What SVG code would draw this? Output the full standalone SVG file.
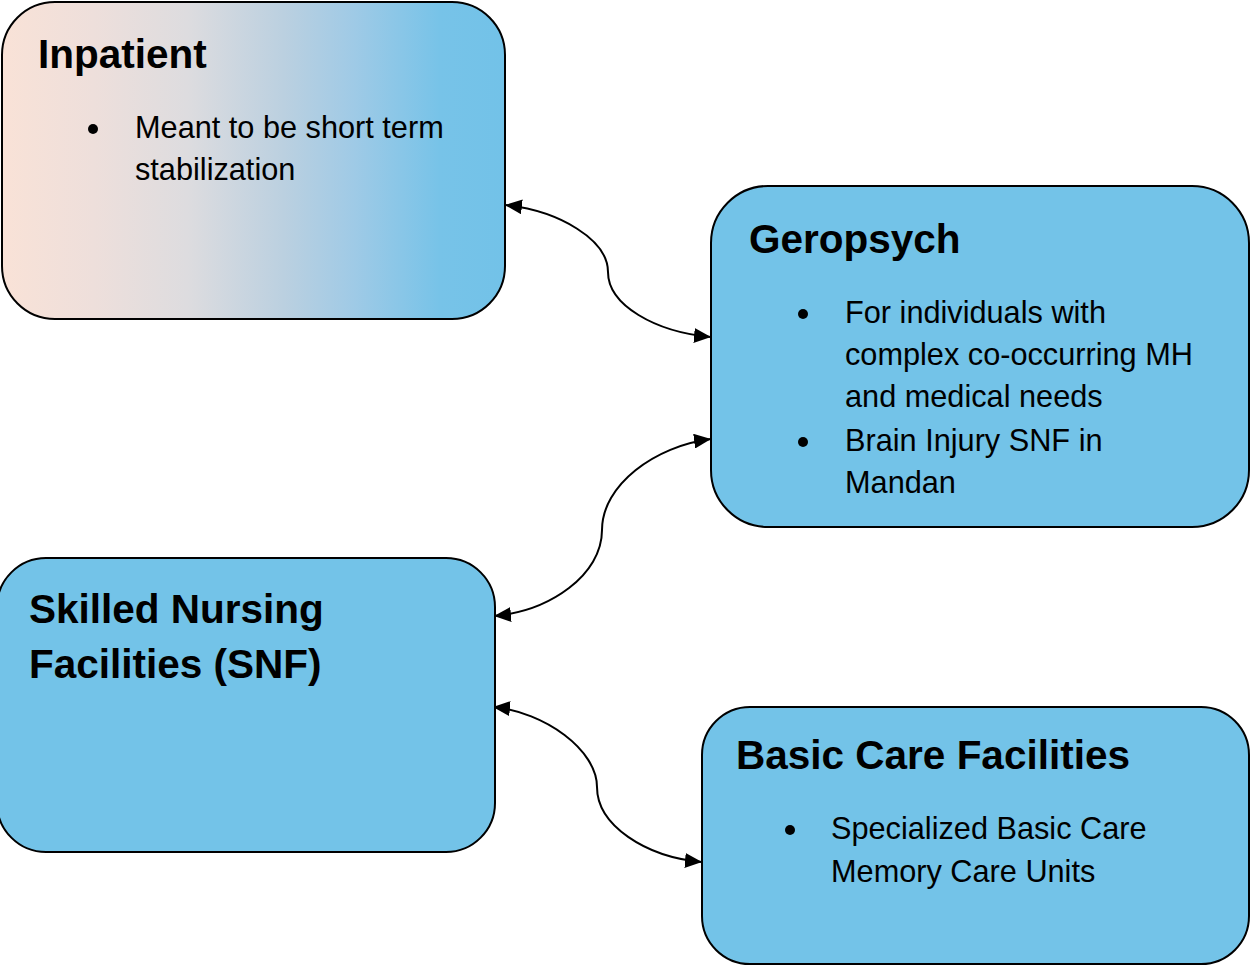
<svg xmlns="http://www.w3.org/2000/svg" width="1250" height="966" viewBox="0 0 1250 966">
<style>
.box{stroke:#000;stroke-width:2;}
.blue{fill:#73C3E8;}
.title{font-family:"Liberation Sans",Arial,sans-serif;font-weight:bold;font-size:40.5px;fill:#000;}
.body{font-family:"Liberation Sans",Arial,sans-serif;font-size:30.7px;fill:#000;}
.conn{fill:none;stroke:#000;stroke-width:2;marker-start:url(#arr);marker-end:url(#arr);}
</style>
<defs>
<linearGradient id="grad" gradientUnits="userSpaceOnUse" x1="2" y1="0" x2="505" y2="0">
<stop offset="0" stop-color="#F9E2D7"/>
<stop offset="0.18" stop-color="#EEDFDB"/>
<stop offset="0.37" stop-color="#DDDCDF"/>
<stop offset="0.56" stop-color="#BBD0E0"/>
<stop offset="0.7" stop-color="#9FCAE6"/>
<stop offset="0.87" stop-color="#77C3E8"/>
<stop offset="1" stop-color="#72C2E8"/>
</linearGradient>
<marker id="arr" markerUnits="userSpaceOnUse" markerWidth="17" markerHeight="15" refX="17" refY="7.5" orient="auto-start-reverse">
<path d="M0,0 L17,7.5 L0,15 Z" fill="#000"/>
</marker>
</defs>
<g id="connectors">
<path class="conn" d="M505,205 C560,211 608,240 608,272 C608,305 655,332 711,337"/>
<path class="conn" d="M711,439 C655,446 602,485 602,530 C602,575 550,611 494,616"/>
<path class="conn" d="M493,707 C545,712 597,750 597,787 C597,825 645,857 702,862"/>
</g>
<g id="inpatient">
<rect class="box" x="2" y="2" width="503" height="317" rx="53" ry="53" fill="url(#grad)"/>
<text class="title" x="38" y="68">Inpatient</text>
<circle cx="93" cy="129" r="5"/>
<text class="body" x="135" y="138">Meant to be short term</text>
<text class="body" x="135" y="180">stabilization</text>
</g>
<g id="geropsych">
<rect class="box blue" x="711" y="186" width="538" height="341" rx="57" ry="57"/>
<text class="title" x="749" y="253">Geropsych</text>
<circle cx="803" cy="314" r="5"/>
<text class="body" x="845" y="323">For individuals with</text>
<text class="body" x="845" y="365">complex co-occurring MH</text>
<text class="body" x="845" y="407">and medical needs</text>
<circle cx="803" cy="442" r="5"/>
<text class="body" x="845" y="451">Brain Injury SNF in</text>
<text class="body" x="845" y="493">Mandan</text>
</g>
<g id="snf">
<rect class="box blue" x="-3" y="558" width="498" height="294" rx="49" ry="49"/>
<text class="title" x="29" y="623">Skilled Nursing</text>
<text class="title" x="29" y="678">Facilities (SNF)</text>
</g>
<g id="basic-care">
<rect class="box blue" x="702" y="707" width="547" height="257" rx="48" ry="48"/>
<text class="title" x="736" y="769">Basic Care Facilities</text>
<circle cx="790" cy="830" r="5"/>
<text class="body" x="831" y="839">Specialized Basic Care</text>
<text class="body" x="831" y="882">Memory Care Units</text>
</g>
</svg>
